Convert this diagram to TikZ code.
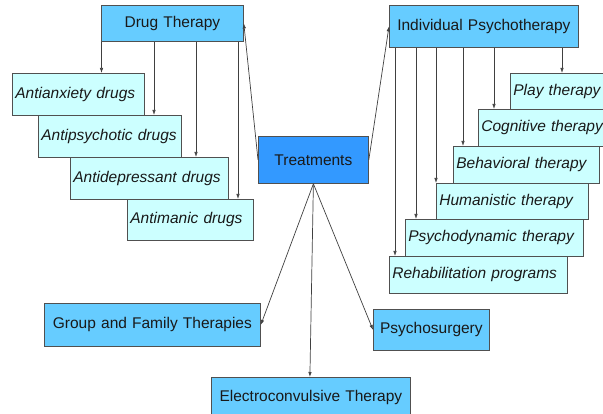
\documentclass[tikz,border=0pt]{standalone}
\usepackage{fontspec}
\setmainfont{Liberation Sans}
\usetikzlibrary{arrows.meta,calc}
\definecolor{midblue}{HTML}{66CCFF}
\definecolor{darkblue}{HTML}{3399FF}
\definecolor{paleblue}{HTML}{CCFFFF}
\definecolor{edgecol}{HTML}{505050}
\definecolor{lnk}{HTML}{404040}
\tikzset{
  base/.style={draw=edgecol, line width=0.8pt, inner ysep=0pt, inner xsep=3pt, anchor=north west, font=\fontsize{15.5}{18}\selectfont, text=black!90},
  mainbox/.style={base, fill=midblue, align=center},
  treatbox/.style={base, fill=darkblue, align=center},
  subbox/.style={base, fill=paleblue, align=left, font=\fontsize{15.5}{18}\selectfont\itshape},
  arr/.style={draw=lnk, line width=0.7pt, -{Latex[length=5pt,width=3.5pt]}},
}
\newcommand\bx[7]{%
  \pgfmathsetmacro\bxw{#4-#2-6}%
  \pgfmathsetmacro\bxh{#5-#3}%
  \node[#6, text width=\bxw pt, minimum height=\bxh pt] (#1) at (#2,#3) {\mbox{#7}};}
\begin{document}
\begin{tikzpicture}[x=1pt,y=-1pt]
\clip (0,0) rectangle (603,414);
\fill[white] (0,0) rectangle (603,414);
% drug therapy branch
\bx{dt}{101}{5}{243}{41}{mainbox}{Drug Therapy}
\bx{a1}{12}{73}{144}{115}{subbox}{Antianxiety drugs}
\bx{a2}{38}{115}{181}{157}{subbox}{Antipsychotic drugs}
\bx{a3}{70}{157}{228}{199}{subbox}{Antidepressant drugs}
\bx{a4}{127}{199}{253}{240}{subbox}{Antimanic drugs}
% center
\bx{tr}{258}{136}{368}{183}{treatbox}{Treatments}
% individual psychotherapy branch
\bx{ip}{389}{5}{578}{47}{mainbox}{Individual Psychotherapy}
\bx{p1}{510}{73}{620}{109}{subbox}{Play therapy}
\bx{p2}{478}{109}{620}{146}{subbox}{Cognitive therapy}
\bx{p3}{453}{146}{599}{183}{subbox}{Behavioral therapy}
\bx{p4}{436}{183}{588}{219}{subbox}{Humanistic therapy}
\bx{p5}{405}{219}{583}{256}{subbox}{Psychodynamic therapy}
\bx{p6}{389}{256}{567}{293}{subbox}{Rehabilitation programs}
% bottom
\bx{gf}{44}{303}{260}{346}{mainbox}{Group and Family Therapies}
\bx{ps}{373}{309}{489}{350}{mainbox}{Psychosurgery}
\bx{ect}{211}{377}{410}{418}{mainbox}{Electroconvulsive Therapy}
% drug arrows
\coordinate (d1) at ([xshift=0.5pt]dt.south west);
\coordinate (d2) at ([xshift=53pt]dt.south west);
\coordinate (d3) at ([xshift=95pt]dt.south west);
\coordinate (d4) at ([xshift=137pt]dt.south west);
\draw[arr] (d1) -- (d1 |- a1.north);
\draw[arr] (d2) -- (d2 |- a2.north);
\draw[arr] (d3) -- (d3 |- a3.north);
\draw[arr] (d4) -- (d4 |- a4.north);
% individual arrows
\coordinate (i6) at ([xshift=6pt]ip.south west);
\coordinate (i5) at ([xshift=27pt]ip.south west);
\coordinate (i4) at ([xshift=47pt]ip.south west);
\coordinate (i3) at ([xshift=74pt]ip.south west);
\coordinate (i2) at ([xshift=105pt]ip.south west);
\coordinate (i1) at ([xshift=173pt]ip.south west);
\draw[arr] (i1) -- (i1 |- p1.north);
\draw[arr] (i2) -- (i2 |- p2.north);
\draw[arr] (i3) -- (i3 |- p3.north);
\draw[arr] (i4) -- (i4 |- p4.north);
\draw[arr] (i5) -- (i5 |- p5.north);
\draw[arr] (i6) -- (i6 |- p6.north);
% treatments arrows
\draw[arr] (tr.west) -- (dt.east);
\draw[arr] (tr.east) -- (ip.west);
\draw[arr] (tr.south) -- (gf.east);
\draw[arr] (tr.south) -- ([xshift=-1pt]ect.north);
\draw[arr] (tr.south) -- (ps.west);
\end{tikzpicture}
\end{document}
